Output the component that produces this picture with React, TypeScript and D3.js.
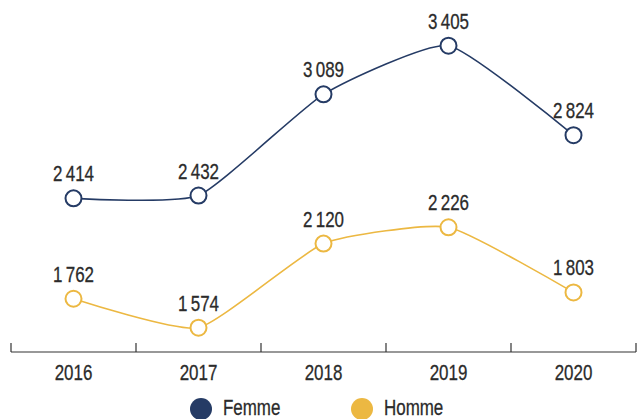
import React from 'react';
import * as d3 from 'd3';

const years = ['2016', '2017', '2018', '2019', '2020'];
const femme = [2414, 2432, 3089, 3405, 2824];
const homme = [1762, 1574, 2120, 2226, 1803];

const W = 637;
const H = 419;
const NAVY = '#253b65';
const GOLD = '#ecb842';
const INK = '#2b2b2b';
const FONT = '"Liberation Sans", Arial, sans-serif';
const SQUEEZE = 0.77; // fake a condensed face

const fmt = (v: number) => d3.format(',')(v).replace(',', '\u2009');

// narrow text: scale the glyphs horizontally around the anchor point
const NarrowText = ({ x, y, anchor = 'middle', children }: any) => (
  <g transform={`translate(${x},${y}) scale(${SQUEEZE},1)`}>
    <text
      x={0}
      y={0}
      textAnchor={anchor}
      fontSize={22}
      fill={INK}
      stroke={INK}
      strokeWidth={0.3}
      fontFamily={FONT}
    >
      {children}
    </text>
  </g>
);

const App = () => {
  const x = d3.scaleBand<string>().domain(years).range([11, 636]).paddingInner(0);
  const cx = (d: string) => (x(d) as number) + x.bandwidth() / 2;
  const y = d3.scaleLinear().domain([1574, 3405]).range([327.7, 45.7]);

  const line = d3
    .line<number>()
    .x((_, i) => cx(years[i]))
    .y((v) => y(v))
    .curve(d3.curveCardinal.tension(0.5));

  const series = [
    { name: 'Femme', values: femme, color: NAVY },
    { name: 'Homme', values: homme, color: GOLD },
  ];

  const tickXs = [...years.map((d) => x(d) as number), 636];

  return (
    <svg
      width={W}
      height={H}
      style={{ position: 'absolute', left: 0, top: 0, background: '#fff' }}
    >
      {/* axis */}
      <line x1={11} x2={636} y1={352} y2={352} stroke="#333" strokeWidth={1.2} />
      {tickXs.map((t, i) => (
        <line key={i} x1={t} x2={t} y1={343} y2={352} stroke="#333" strokeWidth={1.2} />
      ))}
      {years.map((d) => (
        <NarrowText key={d} x={cx(d)} y={380}>
          {d}
        </NarrowText>
      ))}

      {series.map((s) => (
        <g key={s.name}>
          <path d={line(s.values) || ''} fill="none" stroke={s.color} strokeWidth={1.6} />
          {s.values.map((v, i) => (
            <g key={i}>
              <circle cx={cx(years[i])} cy={y(v)} r={8} fill="#fff" stroke={s.color} strokeWidth={2} />
              <NarrowText x={cx(years[i])} y={y(v) - 17}>
                {fmt(v)}
              </NarrowText>
            </g>
          ))}
        </g>
      ))}

      {/* legend */}
      {series.map((s, i) => {
        const lx = i === 0 ? 201 : 362;
        return (
          <g key={s.name}>
            <circle cx={lx} cy={409} r={11} fill={s.color} />
            <NarrowText x={lx + 22} y={415} anchor="start">
              {s.name}
            </NarrowText>
          </g>
        );
      })}
    </svg>
  );
};

export default App;
